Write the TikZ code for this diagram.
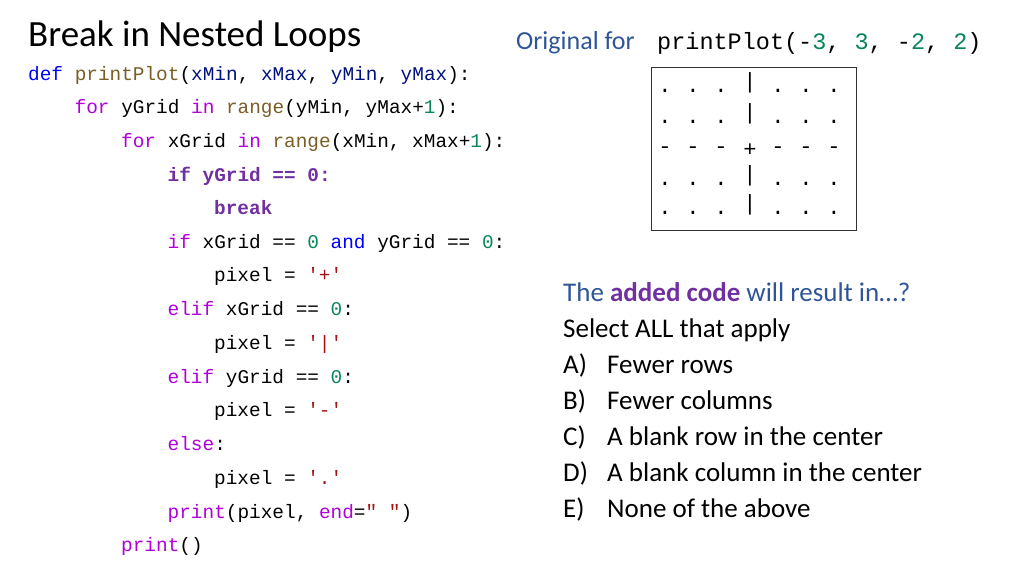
\documentclass[tikz,border=0pt]{standalone}
\usepackage{fontspec}
\setmainfont{Carlito}
\setmonofont{Liberation Mono}
\definecolor{kw}{HTML}{AF00DB}
\definecolor{df}{HTML}{0000FF}
\definecolor{fn}{HTML}{795E26}
\definecolor{pa}{HTML}{001080}
\definecolor{nu}{HTML}{098658}
\definecolor{st}{HTML}{A31515}
\definecolor{bp}{HTML}{7030A0}
\definecolor{tb}{HTML}{2F5597}
\newcommand{\K}[1]{\textcolor{kw}{#1}}
\newcommand{\N}[1]{\textcolor{nu}{#1}}
\newcommand{\Sr}[1]{\textcolor{st}{#1}}
\begin{document}
\begin{tikzpicture}[x=1pt,y=-1pt,
  code/.style={anchor=base west,inner sep=0,font=\fontsize{19.4}{22}\ttfamily},
  ans/.style={anchor=base west,inner sep=0,font=\fontsize{27}{30}\selectfont,text=black},
  cell/.style={inner sep=0,font=\fontsize{22}{24}\ttfamily}]
\useasboundingbox (0,0) rectangle (1024,576);
\node[anchor=base west,inner sep=0,font=\fontsize{37}{40}\selectfont] (title) at (28,46) {Break in Nested Loops};
\node[code] (l1) at (28,80) {\textcolor{df}{def} \textcolor{fn}{printPlot}(\textcolor{pa}{xMin}, \textcolor{pa}{xMax}, \textcolor{pa}{yMin}, \textcolor{pa}{yMax}):};
\node[code] (l2) at (74.5,113) {\K{for} yGrid \K{in} \textcolor{fn}{range}(yMin, yMax+\N{1}):};
\node[code] (l3) at (121,147) {\K{for} xGrid \K{in} \textcolor{fn}{range}(xMin, xMax+\N{1}):};
\node[code] (l4) at (167.5,181) {\textcolor{bp}{\bfseries if yGrid == 0:}};
\node[code] (l5) at (214,214) {\textcolor{bp}{\bfseries break}};
\node[code] (l6) at (167.5,248) {\K{if} xGrid == \N{0} \textcolor{df}{and} yGrid == \N{0}:};
\node[code] (l7) at (214,281) {pixel = \Sr{'+'}};
\node[code] (l8) at (167.5,315) {\K{elif} xGrid == \N{0}:};
\node[code] (l9) at (214,349) {pixel = \Sr{'|'}};
\node[code] (l10) at (167.5,383) {\K{elif} yGrid == \N{0}:};
\node[code] (l11) at (214,416) {pixel = \Sr{'-'}};
\node[code] (l12) at (167.5,450) {\K{else}:};
\node[code] (l13) at (214,484) {pixel = \Sr{'.'}};
\node[code] (l14) at (167.5,518) {\textcolor{fn}{\K{print}}(pixel, \K{end}=\Sr{" "})};
\node[code] (l15) at (121,551) {\K{print}()};
% header
\node[anchor=base west,inner sep=0,font=\fontsize{26}{28}\selectfont,text=tb] (orig) at (516,49) {Original for};
\node[anchor=base west,inner sep=0,font=\fontsize{23.5}{26}\ttfamily] (call) at (657,49) {printPlot(-\N{3}, \N{3}, -\N{2}, \N{2})};
\draw[line width=1pt,draw=black!80] (651,67) rectangle (856,230);
\foreach \r/\y in {1/91,2/122,4/184,5/213}{
  \foreach \c/\x in {1/665,2/693,3/721,5/778,6/806,7/834}{
    \node[cell] (d\r\c) at (\x,\y) {.};
  }
  \node[cell] (v\r) at (750,\y-8) {|};
}
\foreach \c/\x in {1/665,2/693,3/721,5/778,6/806,7/834}{
  \node[cell] (h\c) at (\x,150) {-};
}
\node[cell] (plus) at (750,150) {+};
% question
\node[anchor=base west,inner sep=0,font=\fontsize{27}{30}\selectfont,text=tb] (q) at (563,301) {The \textcolor{bp}{\bfseries added code} will result in…?};
\node[ans] (sel) at (563,337) {Select ALL that apply};
\foreach \i/\L/\T in {0/A/Fewer rows,1/B/Fewer columns,2/C/A blank row in the center,3/D/A blank column in the center,4/E/None of the above}{
  \node[ans] (o\L) at (563,373+36*\i) {\L)};
  \node[ans] (t\L) at (607,373+36*\i) {\T};
}
\end{tikzpicture}
\end{document}
